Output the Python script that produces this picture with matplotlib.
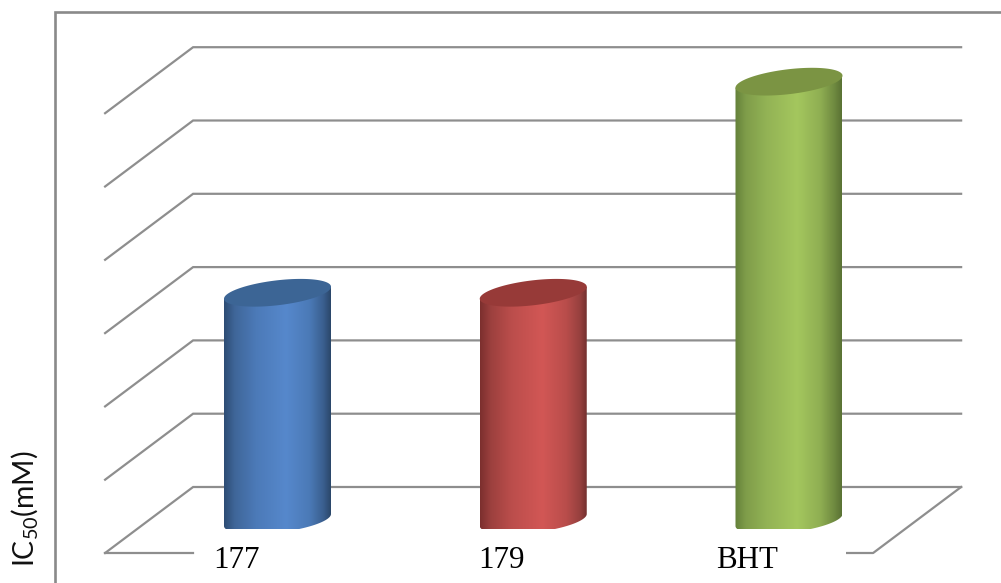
# -*- coding: utf-8 -*-

import numpy as np
import matplotlib
matplotlib.use("Agg")
import matplotlib.pyplot as plt
from matplotlib.colors import LinearSegmentedColormap
from matplotlib.lines import Line2D
from matplotlib.patches import PathPatch
from matplotlib.path import Path

categories = ['177', '179', 'BHT']
values = [3.1, 3.1, 5.98]
grid_levels = [0, 1, 2, 3, 4, 5, 6]

# shading across each cylinder, dark edges with the highlight a bit right of centre
stops = [0, 0.1, 0.3, 0.58, 0.8, 0.93, 1]
side_colors = [
    ['#2d4c74', '#3f6699', '#4c7ab8', '#5688cc', '#4b7ab7', '#3a5f8f', '#2b476a'],
    ['#7c2f2e', '#9c403e', '#bc4e4c', '#d25755', '#b94d4b', '#96403e', '#6f2e2d'],
    ['#64803a', '#7f9d4a', '#93b355', '#a4c75e', '#8fae52', '#6f8a40', '#5a7234'],
]
top_colors = ['#3c6595', '#973a38', '#7b9443']

W, H = 1001, 583
PX_X = 255.75   # pixels per category
PX_Y = 73.3     # pixels per value unit
ORIGIN_X, ORIGIN_Y = 277.5, 520.0
label_shift = [-41, -32, -41.5]

fig = plt.figure(figsize=(W / 100, H / 100), dpi=100)
ax = fig.add_axes([0, 0, 1, 1])
ax.axis('off')

GRAY = '#8e8e8e'
LW = 1.6
dx, dy = 44 / PX_X, 33 / PX_Y
left, right = -0.33, 2.673

# walls and floor
for level in grid_levels:
    ax.plot([left - 2 * dx, left, right], [level - dy, level + dy, level + dy],
            color=GRAY, lw=LW, zorder=1, solid_joinstyle='miter')
ax.plot([right, right - 2 * dx, right - 2 * dx - 26 / PX_X],
        [dy, -dy, -dy], color=GRAY, lw=LW, zorder=1)
ax.plot([left - 2 * dx, left], [-dy, -dy], color=GRAY, lw=LW, zorder=1)

# cylinders
half_w = 53.5 / PX_X
tilt = 6 / PX_Y
half_h = 12.5 / PX_Y
floor_y = -9 / PX_Y
t = np.linspace(0, 2 * np.pi, 181)
for i, v in enumerate(values):
    cx = np.cos(t) * half_w + i
    top_y = v + np.cos(t) * tilt + np.sin(t) * half_h
    low = t[t <= np.pi]
    low_x = np.cos(low) * half_w + i
    low_y = np.maximum(np.cos(low) * tilt - np.sin(low) * half_h, floor_y)

    body = np.column_stack([
        np.r_[i - half_w, i + half_w, low_x],
        np.r_[v - tilt, v + tilt, low_y],
    ])
    clip = PathPatch(Path(np.vstack([body, body[:1]]), closed=True),
                     transform=ax.transData, fc='none', ec='none')
    ax.add_patch(clip)
    cmap = LinearSegmentedColormap.from_list('side', list(zip(stops, side_colors[i])))
    im = ax.imshow(np.linspace(0, 1, 256).reshape(1, -1), cmap=cmap, aspect='auto',
                   interpolation='bilinear',
                   extent=[i - half_w, i + half_w, floor_y, v + 1], zorder=2)
    im.set_clip_path(clip)
    ax.fill(cx, top_y, color=top_colors[i], lw=0, zorder=3)

    ax.text(i + label_shift[i] / PX_X, -48 / PX_Y, categories[i], family='Liberation Serif',
            fontsize=22.3, ha='center', va='baseline', color='black', zorder=4)

ax.set_xlim(-ORIGIN_X / PX_X, (W - ORIGIN_X) / PX_X)
ax.set_ylim((ORIGIN_Y - H) / PX_Y, ORIGIN_Y / PX_Y)

# frame of the pasted chart, only top and left show
fig.add_artist(Line2D([55 / W, 55 / W, 1], [0, 1 - 11.5 / H, 1 - 11.5 / H],
                      color='#8a8a8a', lw=1.9, solid_joinstyle='miter'))

plt.rcParams['mathtext.default'] = 'regular'
fig.text(24.5 / W, 1 - 508.5 / H, 'IC$_{50}$(mM)', family='Lato', fontsize=20.4,
         rotation=90, ha='center', va='center', color='#111111')

fig.savefig('out.png', dpi=100)
